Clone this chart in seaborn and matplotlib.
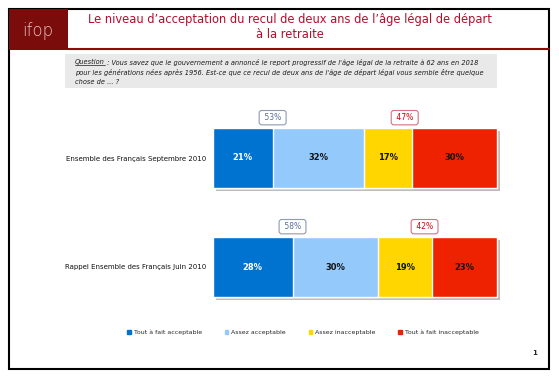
import numpy as np
import pandas as pd
import matplotlib
matplotlib.use("Agg")
import matplotlib.pyplot as plt
import matplotlib.patheffects as pe
from matplotlib.patches import Rectangle, Patch
import seaborn as sns

# donnees
groupes = ["Ensemble des Français Septembre 2010", "Rappel Ensemble des Français Juin 2010"]
reponses = ["Tout à fait acceptable", "Assez acceptable", "Assez inacceptable", "Tout à fait inacceptable"]
tout_a_fait_acc = [21, 28]
assez_acc = [32, 30]
assez_inacc = [17, 19]
tout_a_fait_inacc = [30, 23]
total_acc = [53, 58]
total_inacc = [47, 42]

couleurs = ["#0072cf", "#94c9fc", "#ffd600", "#ef2200"]
titre = "Le niveau d\u2019acceptation du recul de deux ans de l\u2019âge légal de départ\nà la retraite"
question = [" : Vous savez que le gouvernement a annoncé le report progressif de l'âge légal de la retraite à 62 ans en 2018",
            "pour les générations nées après 1956. Est-ce que ce recul de deux ans de l'âge de départ légal vous semble être quelque",
            "chose de ... ?"]

sns.set_theme(style="white")
plt.rcParams["font.family"] = ["DejaVu Sans"]

W, H = 559, 379
fig = plt.figure(figsize=(W / 100, H / 100), dpi=100)

# fond de page en pixels
ax0 = fig.add_axes([0, 0, 1, 1])
ax0.set_xlim(0, W)
ax0.set_ylim(H, 0)
ax0.axis("off")
ax0.add_patch(Rectangle((9, 9), 540, 360, fill=False, ec="black", lw=1.5))
ax0.add_patch(Rectangle((9, 9), 59, 41, fc="#7b0c0c", ec="none"))
ax0.text(38, 31, "ifop", color="#e9c4c4", fontsize=12, ha="center", va="center", fontweight="light")
ax0.plot([68, 549], [49, 49], color="#8b0a0a", lw=1.5)
ax0.text(290, 27, titre, color="#b0102c", fontsize=8.3, ha="center", va="center", linespacing=1.3)
ax0.add_patch(Rectangle((65, 54), 432, 34, fc="#e9e9e9", ec="none"))

q = ax0.text(75, 62, "Question", fontsize=4.8, style="italic", color="#1a1a1a", va="center", ha="left")
ax0.annotate(question[0], xy=(1, 0.5), xycoords=q, fontsize=4.8, style="italic", color="#1a1a1a", va="center", ha="left")
for k, ligne in enumerate(question[1:]):
    ax0.text(75, 72 + 10 * k, ligne, fontsize=4.8, style="italic", color="#1a1a1a", va="center", ha="left")

# barres empilees
df = pd.DataFrame({"groupe": groupes,
                   reponses[0]: tout_a_fait_acc,
                   reponses[1]: assez_acc,
                   reponses[2]: assez_inacc,
                   reponses[3]: tout_a_fait_inacc})
cumul = df[reponses].cumsum(axis=1)

ax = fig.add_axes([213 / W, 1 - 321.5 / H, 284 / W, 218 / H])
for i in reversed(range(4)):
    n_avant = len(ax.patches)
    sns.barplot(x=cumul[reponses[i]], y=df["groupe"], color=couleurs[i], saturation=1,
                orient="h", width=0.55, edgecolor="white", linewidth=1, ax=ax)
    if i == 3:
        for p in ax.patches[n_avant:]:
            p.set_clip_on(False)
            p.set_path_effects([pe.SimplePatchShadow(offset=(2, -2), shadow_rgbFace="#bdbdbd", alpha=1), pe.Normal()])

for j in range(len(groupes)):
    for i in range(4):
        v = df[reponses[i]][j]
        ax.text(cumul[reponses[i]][j] - v / 2, j, f"{v}%", ha="center", va="center",
                fontsize=6, fontweight="bold", color="white" if i == 0 else "#111111")
    ax.text(cumul[reponses[0]][j], j - 0.37, f" {total_acc[j]}% ", ha="center", va="center",
            fontsize=5.5, color="#5a6f90", clip_on=False,
            bbox=dict(boxstyle="round,pad=0.35", fc="white", ec="#8d9bb3", lw=0.8))
    ax.text(cumul[reponses[2]][j] - 2.5, j - 0.37, f" {total_inacc[j]}% ", ha="center", va="center",
            fontsize=5.5, color="#d00010", clip_on=False,
            bbox=dict(boxstyle="round,pad=0.35", fc="white", ec="#d77080", lw=0.8))

ax.set_xlim(0, 100)
ax.set_ylim(1.5, -0.5)
ax.set_xticks([])
ax.set_xlabel("")
ax.set_ylabel("")
ax.tick_params(axis="y", length=0, pad=5, labelsize=5, labelcolor="#111111")
sns.despine(ax=ax, left=True, bottom=True)
ax.patch.set_alpha(0)

handles = [Patch(color=c) for c in couleurs]
fig.legend(handles, reponses, loc="center", bbox_to_anchor=(303 / W, 1 - 332 / H), ncol=4,
           frameon=False, fontsize=4.5, handlelength=0.6, handleheight=0.6, handletextpad=0.5,
           columnspacing=3.6)

ax0.text(535, 353, "1", fontsize=5, fontweight="bold", ha="center", va="center")

# souligner "Question"
fig.canvas.draw()
bb = q.get_window_extent().transformed(ax0.transData.inverted())
ax0.plot([bb.x0, bb.x1], [bb.y0 - 0.3, bb.y0 - 0.3], color="#1a1a1a", lw=0.5)

fig.savefig("out.png", dpi=100)
